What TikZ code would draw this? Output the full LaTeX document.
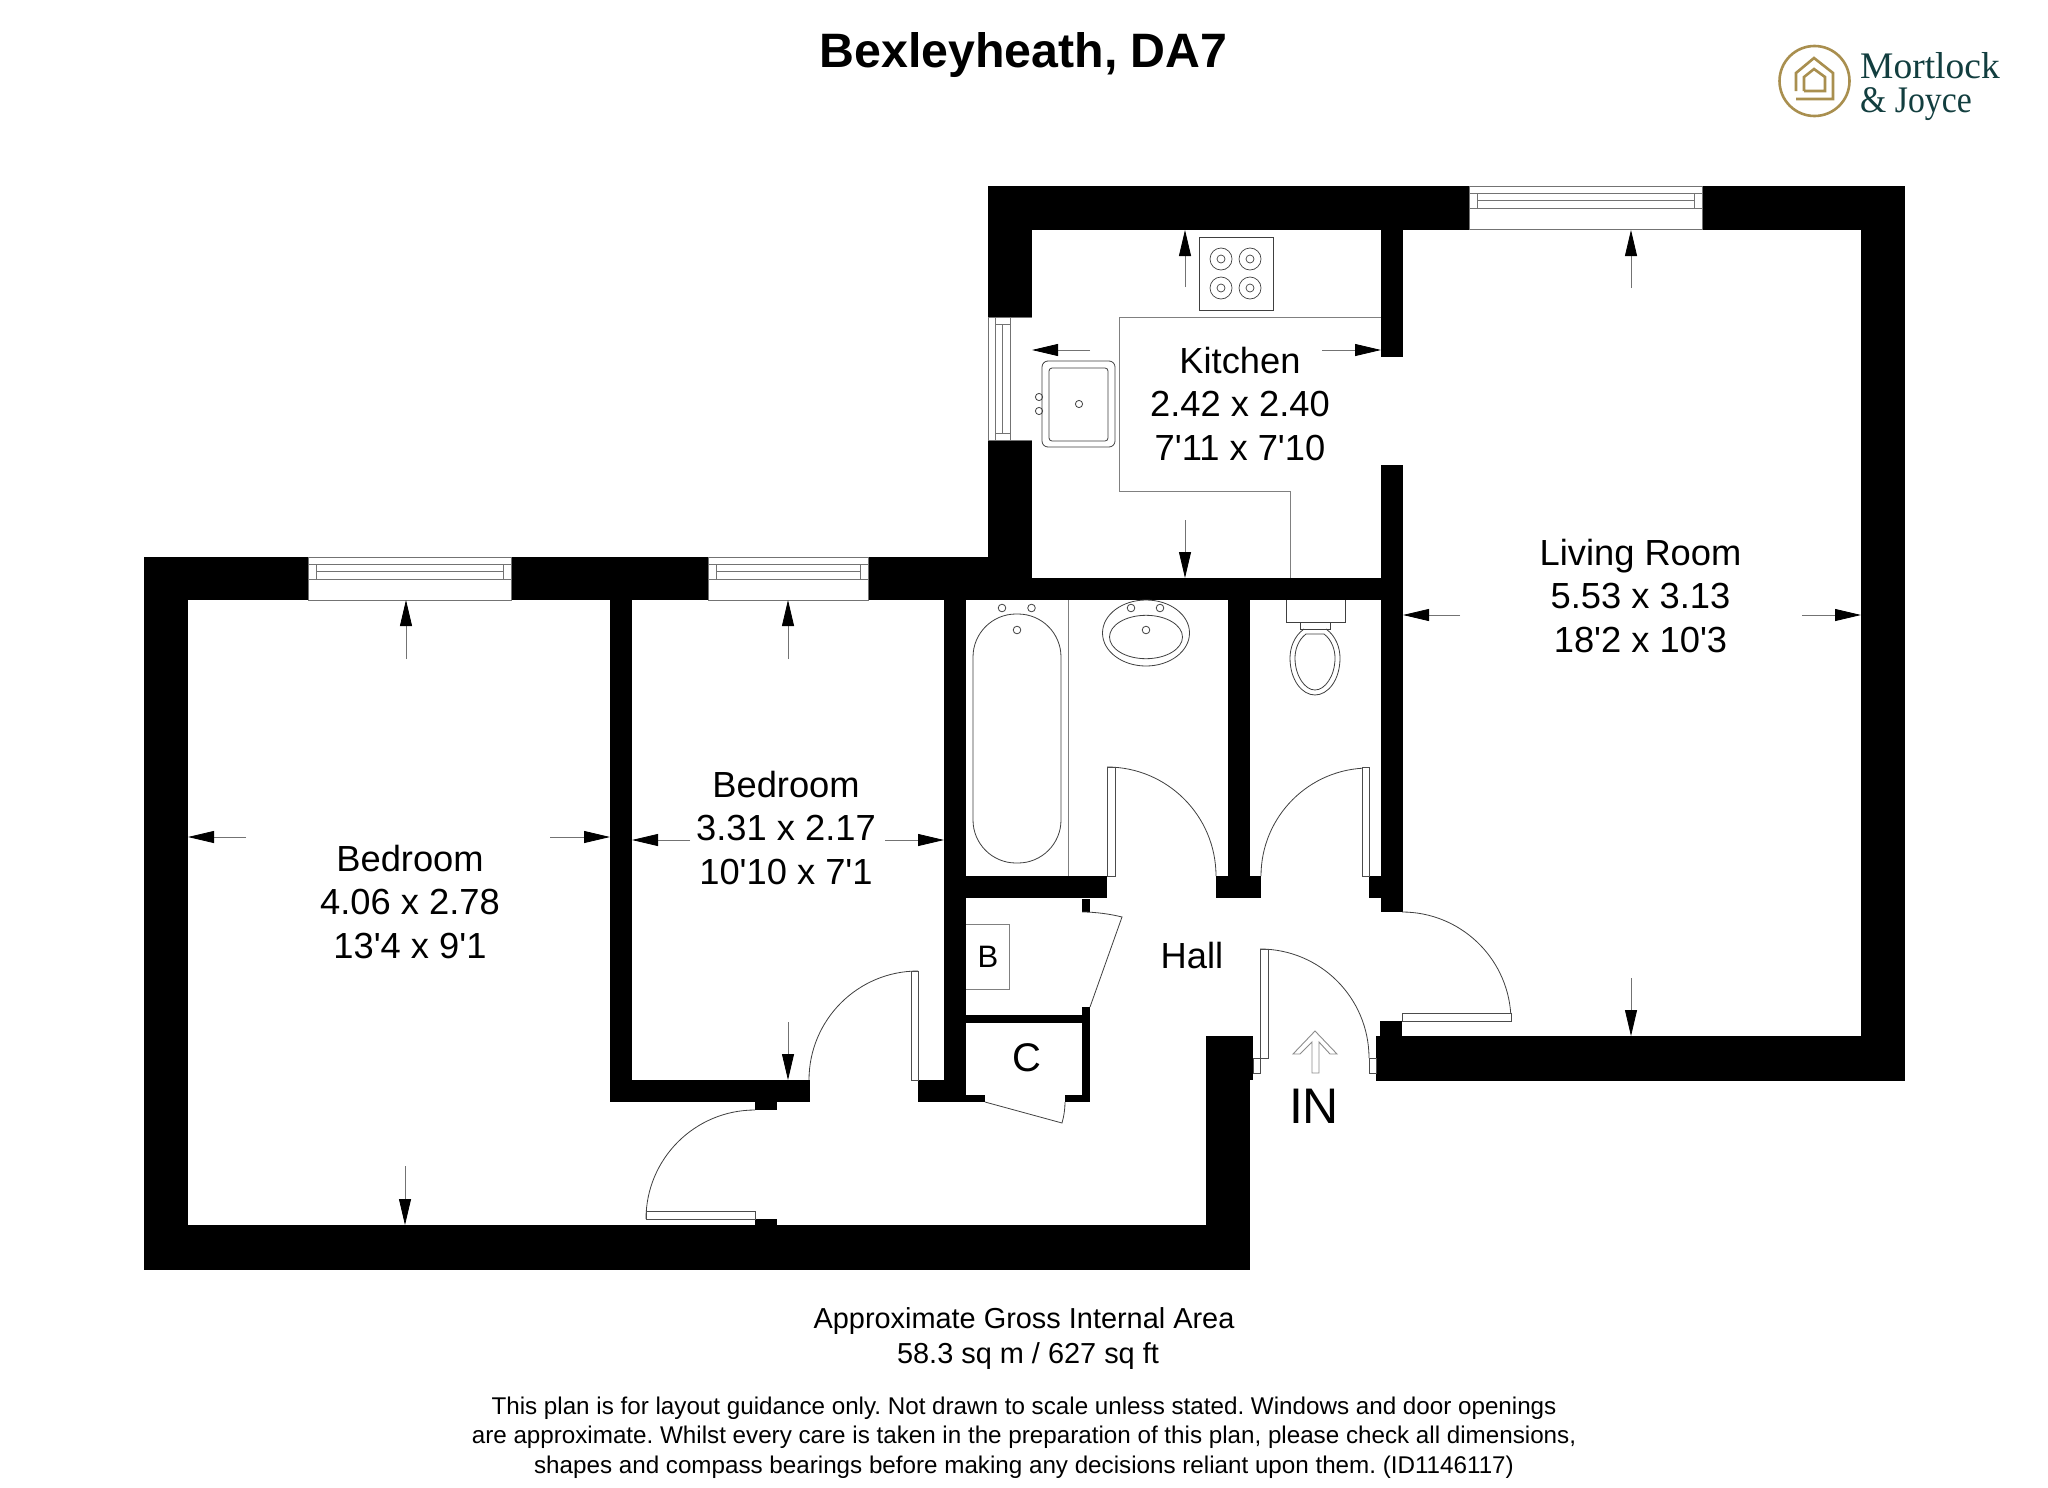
\documentclass[tikz,border=0pt]{standalone}
\usepackage{fontspec}
\setmainfont{Liberation Sans}[Ligatures=TeXOff]
\newfontfamily\logofont{Liberation Serif}
\usetikzlibrary{arrows.meta}
\definecolor{logogold}{HTML}{A98F4F}
\definecolor{logoteal}{HTML}{123E3F}
\tikzset{
  wall/.style={fill=black,draw=none},
  dimarrow/.style={draw=black!55,line width=.8pt,-{Triangle[black,length=26pt,width=12pt]}},
  thin line/.style={draw=black!75,line width=.8pt},
  grey line/.style={draw=black!50,line width=1pt},
  leaf/.style={draw=black!70,fill=white,line width=.8pt},
  winedge/.style={draw=black!55,line width=.9pt},
  room/.style={align=center,inner sep=0pt,font=\fontsize{36.3}{43.5}\selectfont},
  foot/.style={inner sep=0pt,font=\fontsize{28.9}{30}\selectfont},
  small foot/.style={inner sep=0pt,font=\fontsize{24.2}{28}\selectfont},
}
\begin{document}
\frenchspacing
\begin{tikzpicture}[x=1pt,y=-1pt]
\useasboundingbox (0,0) rectangle (2048,1488);
\fill[white] (0,0) rectangle (2048,1488);
% walls
\foreach \a/\b/\c/\d in {
 988/186/1905/230, 988/230/1032/600, 1861/230/1905/1081, 1376/1036/1905/1081,
 144/557/1032/600, 144/600/188/1270, 144/1225/1250/1270, 1032/578/1403/600,
 1381/230/1403/357, 1381/465/1403/600, 1381/600/1403/912, 1369/876/1381/898,
 610/600/632/1102, 610/1080/810/1102, 918/1080/966/1102, 966/1095/985/1102,
 944/600/966/1102, 944/876/1107/898, 1228/600/1250/876, 1216/876/1261/898,
 755/1102/777/1110, 755/1219/777/1225,
 966/1015/1090/1023, 1082/1007/1090/1102, 1065/1095/1090/1102, 1082/899/1090/912,
 1206/1036/1253/1080, 1206/1080/1250/1270, 1380/1021/1402/1036}
 {\fill[wall] (\a,\b) rectangle (\c,\d);}
% windows
\foreach \a/\b in {308/511, 708/868, 1469/1702}{
 \pgfmathsetmacro\ty{\a==1469 ? 186 : 557}
 \fill[white] (\a,\ty) rectangle (\b,\ty+43);
 \draw[winedge] (\a,\ty) rectangle (\b,\ty+43);
 \draw[winedge] (\a,\ty+7) -- (\b,\ty+7);
 \draw[winedge] (\a+8,\ty+14) -- (\b-8,\ty+14);
 \draw[winedge] (\a,\ty+22) -- (\b,\ty+22);
 \draw[winedge] (\a+8,\ty+7) -- (\a+8,\ty+22);
 \draw[winedge] (\b-8,\ty+7) -- (\b-8,\ty+22);
}
\fill[white] (988,317) rectangle (1032,440);
\draw[winedge] (988,317) -- (988,440);
\draw[winedge] (988,317) -- (1032,317);
\draw[winedge] (988,440) -- (1032,440);
\draw[winedge] (995,317) -- (995,440);
\draw[winedge] (1002,324) -- (1002,433);
\draw[winedge] (1010,317) -- (1010,440);
\draw[winedge] (995,324) -- (1010,324);
\draw[winedge] (995,433) -- (1010,433);
% door swings
\draw[thin line] (809,1080) arc[start angle=180,end angle=270,radius=109];
\draw[thin line] (646,1219) arc[start angle=180,end angle=270,radius=109];
\draw[thin line] (1107,767) arc[start angle=270,end angle=360,radius=109];
\draw[thin line] (1261,876) arc[start angle=180,end angle=270,radius=108];
\draw[thin line] (1260,949) arc[start angle=270,end angle=360,radius=109];
\draw[thin line] (1402,912) arc[start angle=270,end angle=356,radius=109];
\draw[thin line] (1082,912) .. controls (1096,912) and (1110,914) .. (1122,917) -- (1090,1007);
\draw[thin line] (985,1102) -- (1062,1123) .. controls (1064,1116) and (1065,1109) .. (1065,1102);
% door leaves
\draw[leaf] (911,971) rectangle (918,1080);
\draw[leaf] (646,1211) rectangle (755,1219);
\draw[leaf] (1107,767) rectangle (1115,876);
\draw[leaf] (1362,767) rectangle (1369,876);
\draw[leaf] (1402,1013) rectangle (1511,1021);
\draw[leaf] (1260,949) rectangle (1268,1058);
\draw[leaf] (1253,1058) rectangle (1260,1073);
\draw[leaf] (1253,1058) -- (1268,1058);
\draw[leaf] (1369,1058) rectangle (1376,1073);
% kitchen fittings
\draw[grey line] (1381,317) -- (1119,317) -- (1119,491) -- (1290,491) -- (1290,578);
\draw[thin line] (1199,237) rectangle (1273,310);
\foreach \p in {1221,1250}\foreach \q in {259,288}{
 \draw[thin line,line width=.7pt] (\p,\q) circle[radius=11];
 \draw[thin line,line width=.7pt] (\p,\q) circle[radius=4];
}
\draw[thin line,rounded corners=6pt] (1042,361) rectangle (1115,447);
\draw[thin line,rounded corners=3pt] (1049,368) rectangle (1108,441);
\draw[thin line] (1079,404) circle[radius=3.6];
\draw[thin line] (1039,397) circle[radius=3.6];
\draw[thin line] (1039,411) circle[radius=3.6];
% bathroom fittings
\draw[grey line] (1068,600) -- (1068,876);
\draw[thin line,rounded corners=43pt] (973,614) rectangle (1061,863);
\draw[thin line] (1002,608) circle[radius=3.8];
\draw[thin line] (1031.5,608) circle[radius=3.8];
\draw[thin line] (1017,630) circle[radius=3.8];
\draw[thin line] (1146,633) ellipse[x radius=43.5,y radius=33];
\draw[thin line] (1146,637) ellipse[x radius=36.5,y radius=21.7];
\draw[thin line] (1131,608) circle[radius=3.8];
\draw[thin line] (1160,608) circle[radius=3.8];
\draw[thin line] (1146,630) circle[radius=3.8];
% WC
\draw[thin line] (1286,600) -- (1286,622) -- (1345,622) -- (1345,600);
\draw[thin line] (1300,622) rectangle (1330,629);
\draw[thin line] (1304,629) .. controls (1294,636) and (1290,648) .. (1290,658) .. controls (1290,680) and (1302,695) .. (1315,695) .. controls (1328,695) and (1340,680) .. (1340,658) .. controls (1340,648) and (1336,636) .. (1326,629);
\draw[thin line] (1306,634) .. controls (1298,640) and (1295,650) .. (1295,658) .. controls (1295,676) and (1305,690) .. (1315,690) .. controls (1325,690) and (1335,676) .. (1335,658) .. controls (1335,650) and (1332,640) .. (1324,634) -- cycle;
% cupboard
\draw[grey line] (966,924) -- (1009,924) -- (1009,989) -- (966,989);
\node[inner sep=0pt,font=\fontsize{31}{31}\selectfont] (boiler) at (988,957) {B};
\node[inner sep=0pt,font=\fontsize{40}{40}\selectfont] (cupboard) at (1026.5,1058) {C};
% entry arrow
\draw[draw=black!45,line width=.9pt] (1315,1031) -- (1337,1054) -- (1330,1054) -- (1319,1042) -- (1319,1073) -- (1312,1073) -- (1312,1042) -- (1300,1054) -- (1293,1054) -- cycle;
\node[inner sep=0pt,font=\fontsize{50}{50}\selectfont] (entry) at (1314,1106) {IN};
% dimension arrows
\foreach \a/\b/\c/\d in {
 406/659/406/600, 246/837/188/837, 550/837/610/837, 405/1166/405/1225,
 788/659/788/600, 690/840/632/840, 885/840/944/840, 788/1022/788/1080,
 1185/287/1185/230, 1090/350/1032/350, 1322/350/1381/350, 1185/520/1185/578,
 1631/288/1631/230, 1460/615/1403/615, 1802/615/1861/615, 1631/978/1631/1036}
 {\draw[dimarrow] (\a,\b) -- (\c,\d);}
% room labels
\node[room] (bedone) at (410,902) {Bedroom\\4.06 x 2.78\\13'4 x 9'1};
\node[room] (bedtwo) at (786,828) {Bedroom\\3.31 x 2.17\\10'10 x 7'1};
\node[room] (kitchen) at (1240,404) {Kitchen\\2.42 x 2.40\\7'11 x 7'10};
\node[room] (living) at (1640.5,596) {Living Room\\5.53 x 3.13\\18'2 x 10'3};
\node[room] (hall) at (1192,956) {Hall};
% title and footer
\node[inner sep=0pt,font=\fontsize{48.3}{48}\selectfont\bfseries] (title) at (1023.5,55) {Bexleyheath, DA7};
\node[foot] (area) at (1024,1321) {Approximate Gross Internal Area};
\node[foot] (areaval) at (1028,1356) {58.3 sq m / 627 sq ft};
\node[small foot] (noteone) at (1024,1408) {This plan is for layout guidance only. Not drawn to scale unless stated. Windows and door openings};
\node[small foot] (notetwo) at (1024,1437) {are approximate. Whilst every care is taken in the preparation of this plan, please check all dimensions,};
\node[small foot] (notethree) at (1024,1467) {shapes and compass bearings before making any decisions reliant upon them. (ID1146117)};
% logo
\draw[logogold,line width=2.6pt] (1814.5,81) circle[radius=35];
\draw[logogold,line width=2.6pt,line join=miter] (1796,91) -- (1796,73) -- (1814,58) -- (1833,73) -- (1833,99) -- (1796,99);
\draw[logogold,line width=2.6pt,line join=miter] (1804,91) -- (1804,77) -- (1814,69) -- (1825,77) -- (1825,91) -- (1804,91);
\node[anchor=base west,inner sep=0pt,text=logoteal,font=\logofont\fontsize{37.5}{37}\selectfont] (mortlock) at (1860,78) {Mortlock};
\node[anchor=base west,inner sep=0pt,text=logoteal,font=\logofont\fontsize{37.5}{37}\selectfont] (joyce) at (1860,112) {\scalebox{.9}[1]{\& Joyce}};
\end{tikzpicture}
\end{document}
